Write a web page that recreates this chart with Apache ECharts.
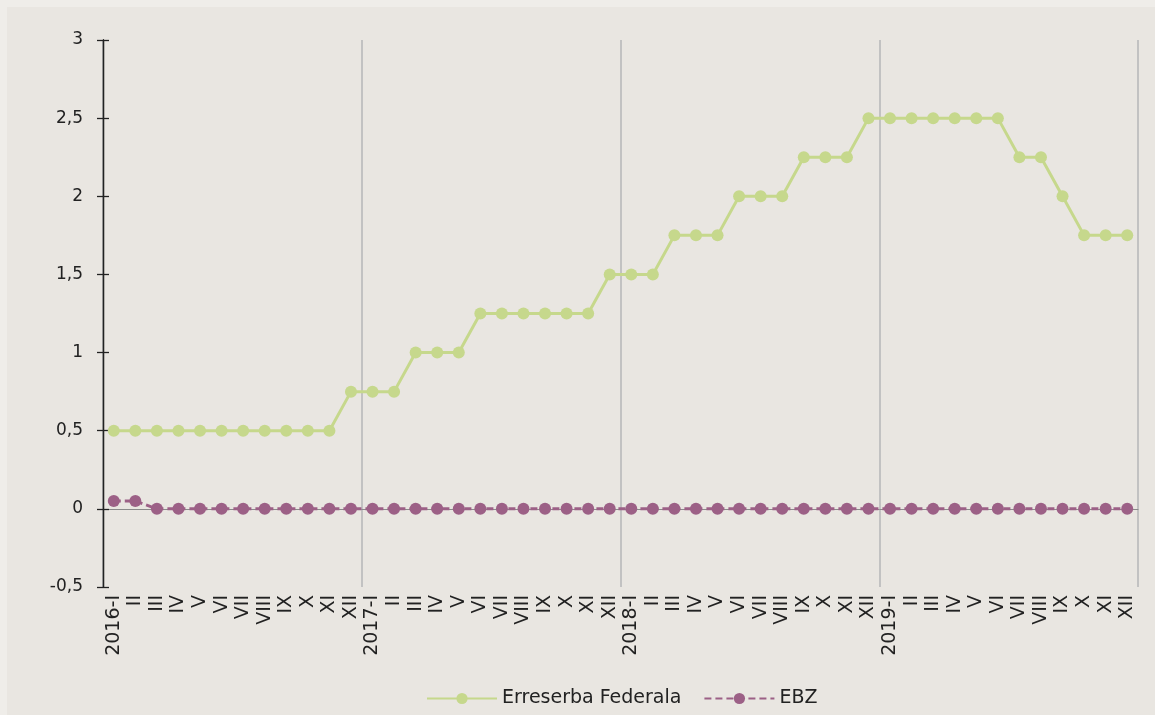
<!DOCTYPE html>
<html>
<head>
<meta charset="utf-8">
<script src="https://cdn.jsdelivr.net/npm/echarts@6/dist/echarts.min.js"></script>
<style>
  html, body { margin: 0; padding: 0; background: #efede9; width: 1155px; height: 715px; overflow: hidden; }
  #chart { position: absolute; left: 7px; top: 7px; width: 1148px; height: 708px; background: #e9e6e1; }
</style>
</head>
<body>
<div id="chart"></div>
<script>
const years = ['2016', '2017', '2018', '2019'];
const months = ['I', 'II', 'III', 'IV', 'V', 'VI', 'VII', 'VIII', 'IX', 'X', 'XI', 'XII'];
const fedValues = [
  0.5, 0.5, 0.5, 0.5, 0.5, 0.5, 0.5, 0.5, 0.5, 0.5, 0.5, 0.75,
  0.75, 0.75, 1.0, 1.0, 1.0, 1.25, 1.25, 1.25, 1.25, 1.25, 1.25, 1.5,
  1.5, 1.5, 1.75, 1.75, 1.75, 2.0, 2.0, 2.0, 2.25, 2.25, 2.25, 2.5,
  2.5, 2.5, 2.5, 2.5, 2.5, 2.5, 2.25, 2.25, 2.0, 1.75, 1.75, 1.75
];
const ebzValues = [
  0.05, 0.05, 0, 0, 0, 0, 0, 0, 0, 0, 0, 0,
  0, 0, 0, 0, 0, 0, 0, 0, 0, 0, 0, 0,
  0, 0, 0, 0, 0, 0, 0, 0, 0, 0, 0, 0,
  0, 0, 0, 0, 0, 0, 0, 0, 0, 0, 0, 0
];
const yTicks = { min: -0.5, max: 3, interval: 0.5 };
const seriesNames = ['Erreserba Federala', 'EBZ'];

const categories = [];
years.forEach(y => months.forEach((m, i) => categories.push(i === 0 ? y + '-' + m : m)));

const FONT = '"DejaVu Sans", sans-serif';
const GRID = { left: 96, right: 17, top: 33, bottom: 128 };
const chart = echarts.init(document.getElementById('chart'));
chart.setOption({
  animation: false,
  textStyle: { fontFamily: FONT },
  grid: GRID,
  legend: {
    left: 414, top: 677,
    itemWidth: 70, itemHeight: 14, itemGap: 22,
    textStyle: { fontFamily: FONT, fontSize: 19, color: '#222' },
    data: seriesNames
  },
  xAxis: [
    {
      type: 'category', data: categories, boundaryGap: true, position: 'bottom',
      axisLine: { show: false, onZero: false },
      axisTick: { show: false },
      splitLine: { show: false },
      axisLabel: { rotate: 90, interval: 0, margin: 8, fontSize: 19, color: '#222', fontFamily: FONT }
    },
    {
      type: 'value', min: 0, max: categories.length, interval: 12, position: 'bottom',
      axisLine: { show: true, onZero: true, lineStyle: { color: '#8a8a8a', width: 1 } },
      axisTick: { show: false },
      axisLabel: { show: false },
      splitLine: { show: true, lineStyle: { color: '#c2c2c2', width: 2 } }
    }
  ],
  yAxis: [
    {
      type: 'value', min: yTicks.min, max: yTicks.max, interval: yTicks.interval,
      axisLine: { show: true, onZero: false, lineStyle: { color: '#222', width: 1.3 } },
      axisTick: { show: true, length: 6, lineStyle: { color: '#222', width: 1.3 } },
      splitLine: { show: false },
      axisLabel: { margin: 20, fontSize: 17, color: '#222', fontFamily: FONT,
        formatter: v => String(v).replace('.', ',') }
    },
    {
      type: 'value', show: true, min: yTicks.min, max: yTicks.max, interval: yTicks.interval,
      position: 'left', offset: 0,
      axisLine: { show: true, onZero: false, lineStyle: { color: '#222', width: 1.3 } },
      axisTick: { show: true, inside: true, length: 6, lineStyle: { color: '#222', width: 1.3 } },
      splitLine: { show: false },
      axisLabel: { show: false }
    }
  ],
  series: [
    {
      name: seriesNames[0], type: 'line', data: fedValues, xAxisIndex: 0, yAxisIndex: 0,
      symbol: 'circle', symbolSize: 12,
      itemStyle: { color: '#c6d88c' },
      lineStyle: { color: '#c6d88c', width: 3 },
      z: 3
    },
    {
      name: seriesNames[1], type: 'line', data: ebzValues, xAxisIndex: 0, yAxisIndex: 1,
      symbol: 'circle', symbolSize: 12,
      itemStyle: { color: '#9c6086' },
      lineStyle: { color: '#9c6086', width: 3, type: [7, 4] },
      z: 4
    }
  ]
});
</script>
</body>
</html>
